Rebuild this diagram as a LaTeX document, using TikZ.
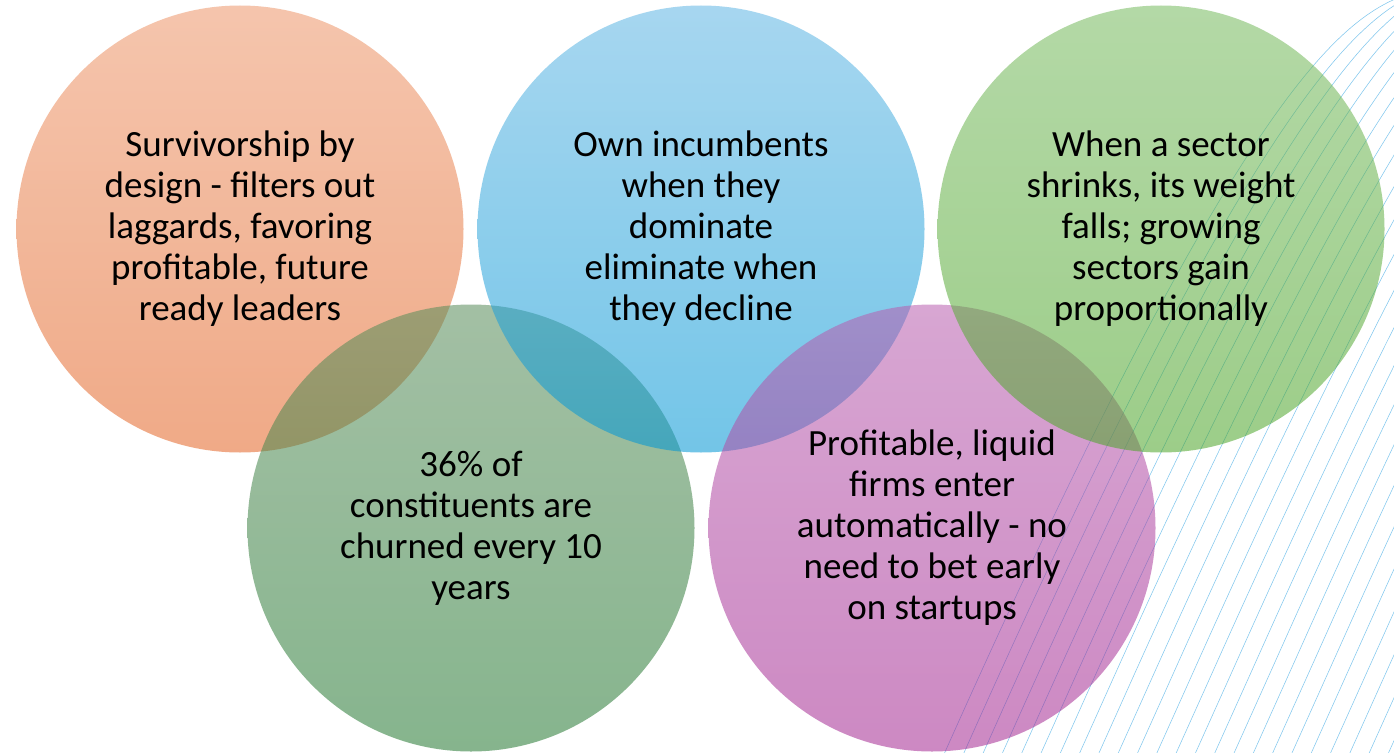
\documentclass[tikz,border=0pt]{standalone}
\usepackage{fontspec}
\setmainfont{Carlito}
\definecolor{oT}{RGB}{237,150,106}
\definecolor{oB}{RGB}{228,100,37}
\definecolor{bT}{RGB}{95,182,228}
\definecolor{bB}{RGB}{0,150,213}
\definecolor{gT}{RGB}{118,186,94}
\definecolor{gB}{RGB}{76,165,40}
\definecolor{dT}{RGB}{88,140,90}
\definecolor{dB}{RGB}{35,120,48}
\definecolor{pT}{RGB}{184,94,175}
\definecolor{pB}{RGB}{164,40,146}
\definecolor{hatch}{RGB}{130,200,238}
\tikzset{
  bubble/.style={circle, minimum size=447pt, inner sep=0pt, shade,
    fill opacity=0.55, text opacity=1, align=center,
    font=\fontsize{37}{41}\selectfont},
  hatchline/.style={draw=hatch, line width=0.55pt},
}
\begin{document}
\begin{tikzpicture}[x=1pt,y=-1pt]
\fill[white] (0,0) rectangle (1394,752);
\useasboundingbox (0,0) rectangle (1394,752);
\begin{scope}
\clip (0,0) rectangle (1394,752);
\foreach \k in {0,...,26}{
  \draw[hatchline, shift={(22*\k,-6*\k)}]
    (1400,-3) .. controls (1330,25) and (1225,125) .. (945,752) -- (490,1763);
}
\end{scope}
\node[bubble, top color=oT, bottom color=oB] (c1) at (240,229)
  {Survivorship by\\design - filters out\\laggards, favoring\\profitable, future\\ready leaders};
\node[bubble, top color=dT, bottom color=dB] (c4) at (471,528)
  {36\% of\\constituents are\\churned every 10\\years};
\node[bubble, top color=bT, bottom color=bB] (c2) at (701,229)
  {Own incumbents\\when they\\dominate\\eliminate when\\they decline};
\node[bubble, top color=pT, bottom color=pB] (c5) at (932,528)
  {Profitable, liquid\\firms enter\\automatically - no\\need to bet early\\on startups};
\node[bubble, top color=gT, bottom color=gB] (c3) at (1161,229)
  {When a sector\\shrinks, its weight\\falls; growing\\sectors gain\\proportionally};
\end{tikzpicture}
\end{document}
